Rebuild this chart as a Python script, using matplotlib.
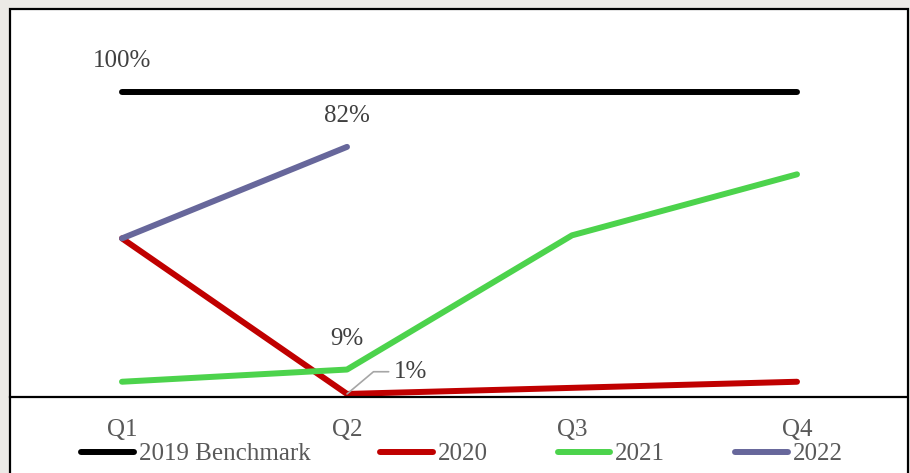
import matplotlib
matplotlib.use("Agg")
import matplotlib.pyplot as plt
from matplotlib.patches import Rectangle

quarters = ["Q1", "Q2", "Q3", "Q4"]
benchmark_2019 = [100, 100, 100, 100]
sales_2020 = [52, 1, 3, 5]
sales_2021 = [5, 9, 53, 73]
sales_2022 = [52, 82]

series = [
    ("2019 Benchmark", benchmark_2019, "#000000"),
    ("2020", sales_2020, "#C00000"),
    ("2021", sales_2021, "#4CD34C"),
    ("2022", sales_2022, "#67679B"),
]

plt.rcParams["font.family"] = ["Liberation Serif", "DejaVu Serif"]
FS = 18

W, H = 910, 473
fig = plt.figure(figsize=(W / 100, H / 100), dpi=100)
fig.patch.set_facecolor("#ECEAE6")

# white chart area with a black frame (bottom runs off the picture)
frame = Rectangle((10 / W, -0.2), 898 / W, 1.2 - 9 / H, transform=fig.transFigure,
                  facecolor="white", edgecolor="black", linewidth=1.6, zorder=-5)
fig.patches.append(frame)

ax = fig.add_axes([9.5 / W, 1 - 397 / H, 900 / W, 388 / H])
ax.set_facecolor("none")

x = list(range(len(quarters)))
for name, vals, color in series:
    ax.plot(x[:len(vals)], vals, color=color, lw=4.3, solid_capstyle="round",
            solid_joinstyle="round", label=name)

ax.set_xlim(-0.5, 3.5)
ax.set_ylim(0, 127.2)
ax.set_yticks([])
ax.set_xticks(x)
ax.set_xticklabels(quarters)
ax.tick_params(axis="x", length=0, pad=16, labelsize=FS, labelcolor="#595959")
for side in ["left", "right", "top"]:
    ax.spines[side].set_visible(False)
ax.spines["bottom"].set_linewidth(1.6)
ax.spines["bottom"].set_color("black")
ax.spines["bottom"].set_bounds(-0.5, 3.49)

lab = dict(textcoords="offset points", ha="center", va="center", fontsize=FS, color="#404040")
ax.annotate(f"{benchmark_2019[0]}%", (0, benchmark_2019[0]), xytext=(0, 22), **lab)
ax.annotate(f"{sales_2022[1]}%", (1, sales_2022[1]), xytext=(0, 22), **lab)
ax.annotate(f"{sales_2021[1]}%", (1, sales_2021[1]), xytext=(0, 22), **lab)
ax.annotate(f"{sales_2020[1]}%", (1, sales_2020[1]), xytext=(34, 16),
            textcoords="offset points", ha="left", va="center", fontsize=FS, color="#404040",
            arrowprops=dict(arrowstyle="-", color="#A6A6A6", lw=1.2, shrinkA=2, shrinkB=0,
                            connectionstyle="angle,angleA=0,angleB=40,rad=0"))

leg = fig.legend(loc="center", bbox_to_anchor=(462 / W, 1 - 454 / H), ncol=4,
                 frameon=False, fontsize=FS, handlelength=2.1, handletextpad=0.2,
                 columnspacing=2.8, borderpad=0)
for t in leg.get_texts():
    t.set_color("#595959")

fig.savefig("out.png", dpi=100, facecolor=fig.get_facecolor())
